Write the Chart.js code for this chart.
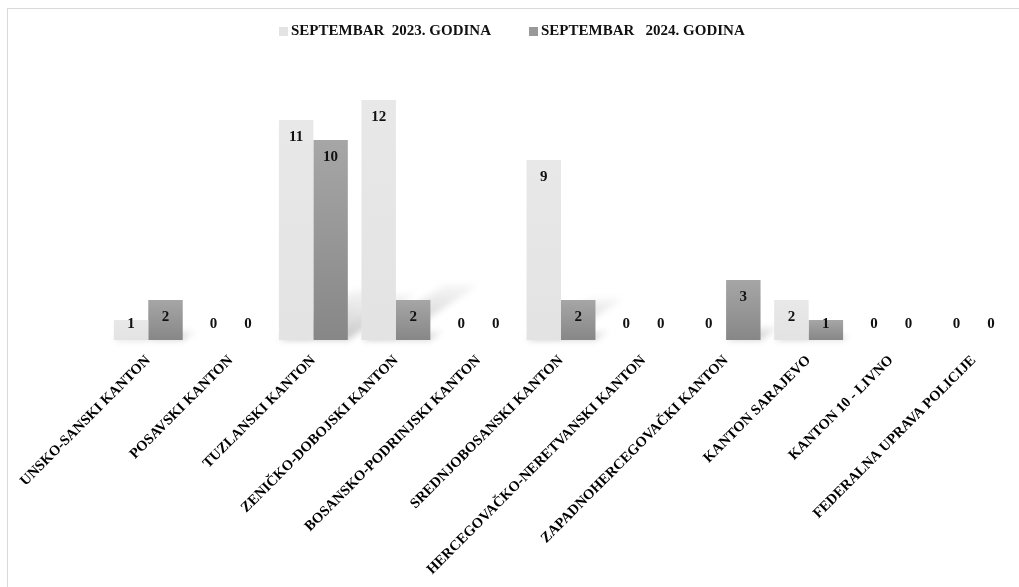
<!DOCTYPE html>
<html>
<head>
<meta charset="utf-8">
<script src="https://cdn.jsdelivr.net/npm/chart.js@4"></script>
<style>
  html, body { margin: 0; padding: 0; background: #fff; }
  canvas { display: block; }
</style>
</head>
<body>
<canvas id="chart" width="1019" height="587"></canvas>
<script>
// Données
const categories = [
    'UNSKO-SANSKI KANTON',
    'POSAVSKI KANTON',
    'TUZLANSKI KANTON',
    'ZENIČKO-DOBOJSKI KANTON',
    'BOSANSKO-PODRINJSKI KANTON',
    'SREDNJOBOSANSKI KANTON',
    'HERCEGOVAČKO-NERETVANSKI KANTON',
    'ZAPADNOHERCEGOVAČKI KANTON',
    'KANTON SARAJEVO',
    'KANTON 10 - LIVNO',
    'FEDERALNA UPRAVA POLICIJE'
];
const label2023  = 'SEPTEMBAR  2023. GODINA';
const label2024  = 'SEPTEMBAR   2024. GODINA';
const values2023 = [1, 0, 11, 12, 0, 9, 0, 0, 2, 0, 0];
const values2024 = [2, 0, 10, 2, 0, 2, 0, 3, 1, 0, 0];

const FONT = '"Liberation Serif", "Times New Roman", serif';

// dégradé vertical par barre
function barGradient(top, bottom) {
    return (context) => {
        const chart = context.chart;
        if (!chart.chartArea || context.parsed === undefined) return bottom;
        const y = chart.scales.y;
        const yTop  = y.getPixelForValue(context.parsed.y);
        const yBase = y.getPixelForValue(0);
        if (yBase - yTop < 1) return bottom;
        const g = chart.ctx.createLinearGradient(0, yTop, 0, yBase);
        g.addColorStop(0, top);
        g.addColorStop(1, bottom);
        return g;
    };
}

// Cadre gris
const framePlugin = {
    id: 'frame',
    beforeDraw(chart) {
        const ctx = chart.ctx;
        ctx.save();
        ctx.strokeStyle = '#d9d9d9';
        ctx.lineWidth = 1;
        ctx.strokeRect(7.5, 8.5, 1200, 1000);
        ctx.restore();
    }
};

// Légende maison
const legendPlugin = {
    id: 'customLegend',
    afterDraw(chart) {
        const ctx = chart.ctx;
        ctx.save();
        ctx.font = 'bold 15px ' + FONT;
        ctx.textBaseline = 'middle';
        const items = [
            { text: label2023, color: '#e3e3e3', x: 279 },
            { text: label2024, color: '#999999', x: 529 }
        ];
        items.forEach(it => {
            ctx.fillStyle = it.color;
            ctx.fillRect(it.x, 27, 9, 9);
            ctx.fillStyle = '#111';
            ctx.fillText(it.text, it.x + 12, 31.5);
        });
        ctx.restore();
    }
};

// Ombres en perspective derrière les barres
const shadowPlugin = {
    id: 'barShadow',
    beforeDatasetsDraw(chart) {
        const ctx = chart.ctx;
        ctx.save();
        ctx.filter = 'blur(3px)';
        chart.data.datasets.forEach((ds, i) => {
            chart.getDatasetMeta(i).data.forEach(bar => {
                const h = bar.base - bar.y;
                if (h < 1) return;
                const w  = bar.width;
                const sh = h * 0.23;
                const sx = sh * 1.5;
                const x0 = bar.x - w / 2;
                const g = ctx.createLinearGradient(0, bar.base, 0, bar.base - sh);
                g.addColorStop(0, 'rgba(0,0,0,0.22)');
                g.addColorStop(1, 'rgba(0,0,0,0.03)');
                ctx.fillStyle = g;
                ctx.beginPath();
                ctx.moveTo(x0, bar.base);
                ctx.lineTo(x0 + w, bar.base);
                ctx.lineTo(x0 + w + sx, bar.base - sh);
                ctx.lineTo(x0 + sx, bar.base - sh);
                ctx.closePath();
                ctx.fill();
            });
        });
        ctx.restore();
    }
};

// Valeurs sur les barres
const valuePlugin = {
    id: 'values',
    afterDatasetsDraw(chart) {
        const ctx = chart.ctx;
        ctx.save();
        ctx.font = 'bold 15px ' + FONT;
        ctx.fillStyle = '#111';
        ctx.textAlign = 'center';
        ctx.textBaseline = 'middle';
        chart.data.datasets.forEach((ds, i) => {
            chart.getDatasetMeta(i).data.forEach((bar, j) => {
                const y = Math.min(bar.y + 17, bar.base - 16);
                ctx.fillText(ds.data[j], bar.x, y);
            });
        });
        ctx.restore();
    }
};

new Chart(document.getElementById('chart').getContext('2d'), {
    type: 'bar',
    data: {
        labels: categories,
        datasets: [
            {
                label: label2023,
                data: values2023,
                backgroundColor: barGradient('#e8e8e8', '#e3e3e3'),
                categoryPercentage: 0.835,
                barPercentage: 1
            },
            {
                label: label2024,
                data: values2024,
                backgroundColor: barGradient('#a6a6a6', '#878787'),
                categoryPercentage: 0.835,
                barPercentage: 1
            }
        ]
    },
    options: {
        responsive: false,
        animation: false,
        events: [],
        layout: { padding: { top: 60, left: 107, right: 4, bottom: 0 } },
        plugins: { legend: { display: false }, tooltip: { enabled: false } },
        scales: {
            x: {
                grid: { display: false },
                border: { display: false },
                ticks: {
                    autoSkip: false,
                    minRotation: 45,
                    maxRotation: 45,
                    padding: 4,
                    color: '#000',
                    font: { family: FONT, size: 14.5, weight: 'bold' }
                },
                afterFit(scale) {
                    scale.height = 247;
                    scale.paddingLeft = 0;
                    scale.paddingRight = 0;
                }
            },
            y: {
                display: false,
                min: 0,
                max: 14
            }
        }
    },
    plugins: [framePlugin, shadowPlugin, valuePlugin, legendPlugin]
});
</script>
</body>
</html>
